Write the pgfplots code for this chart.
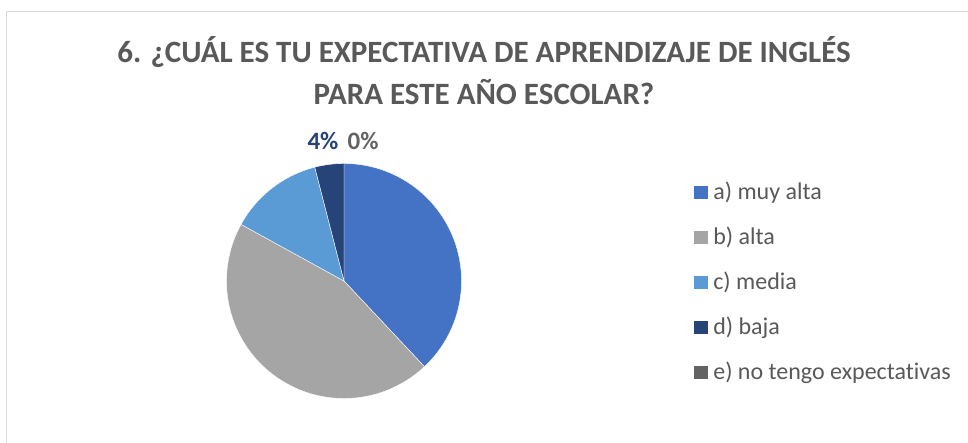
\documentclass[border=0pt]{standalone}
\usepackage{pgfplots}
\pgfplotsset{compat=1.18}
\usepackage{fontspec}
\setmainfont{Carlito}[Ligatures=NoCommon]
\definecolor{ca}{HTML}{4472C4}
\definecolor{cb}{HTML}{A5A5A5}
\definecolor{cc}{HTML}{5B9BD5}
\definecolor{cd}{HTML}{264478}
\definecolor{ce}{HTML}{636363}
\definecolor{txt}{HTML}{595959}
\definecolor{frm}{HTML}{D9D9D9}
% shares (percent)
\def\va{38}\def\vb{45}\def\vc{13}\def\vd{4}\def\ve{0}
\begin{document}
\begin{tikzpicture}
\path[use as bounding box] (0pt,0pt) rectangle (968pt,443pt);
\fill[white] (0pt,0pt) rectangle (968pt,443pt);
\draw[frm, line width=1.5pt] (6.5pt,0pt) -- (6.5pt,431.5pt) -- (968pt,431.5pt);
\node[anchor=base, text=txt, font=\fontsize{31}{36}\selectfont\bfseries, inner sep=0pt] at (484pt,380pt) {6. ¿CUÁL ES TU EXPECTATIVA DE APRENDIZAJE DE INGLÉS};
\node[anchor=base, text=txt, font=\fontsize{31}{36}\selectfont\bfseries, inner sep=0pt] at (484pt,338pt) {PARA ESTE AÑO ESCOLAR?};
\pgfmathsetmacro\aA{90}
\pgfmathsetmacro\aB{\aA-3.6*\va}
\pgfmathsetmacro\aC{\aB-3.6*\vb}
\pgfmathsetmacro\aD{\aC-3.6*\vc}
\pgfmathsetmacro\aE{\aD-3.6*\vd}
\begin{axis}[at={(344pt,162pt)}, anchor=center, x=117.5pt, y=117.5pt,
  xmin=-1, xmax=1, ymin=-1, ymax=1, hide axis, clip=false,
  legend style={at={(axis description cs:1.9894,0.9255)}, anchor=north west,
    draw=none, fill=none, font=\fontsize{24}{24}\selectfont, text=txt,
    row sep=21pt, inner sep=0pt,
    nodes={inner sep=0pt, text height=18pt, text depth=6pt},
    /tikz/every odd column/.append style={column sep=5.6pt}},
  legend cell align=left,
  legend image code/.code={\fill[#1,draw=none] (0pt,-6pt) rectangle (13.5pt,7pt);}]
\addplot[fill=ca, draw=white, line width=0.4pt, domain=\aB:\aA, samples=90, variable=\t] ({cos(t)},{sin(t)}) -- (axis cs:0,0) -- cycle;
\addlegendentry{a) muy alta}
\addplot[fill=cb, draw=white, line width=0.4pt, domain=\aC:\aB, samples=90, variable=\t] ({cos(t)},{sin(t)}) -- (axis cs:0,0) -- cycle;
\addlegendentry{b) alta}
\addplot[fill=cc, draw=white, line width=0.4pt, domain=\aD:\aC, samples=40, variable=\t] ({cos(t)},{sin(t)}) -- (axis cs:0,0) -- cycle;
\addlegendentry{c) media}
\addplot[fill=cd, draw=white, line width=0.4pt, domain=\aE:\aD, samples=20, variable=\t] ({cos(t)},{sin(t)}) -- (axis cs:0,0) -- cycle;
\addlegendentry{d) baja}
\addlegendimage{fill=ce}
\addlegendentry{e) no tengo expectativas}
\node[anchor=base, font=\fontsize{25}{25}\selectfont\bfseries, text=cd, inner sep=0pt] at (axis cs:-0.179,1.115) {\vd\%};
\node[anchor=base, font=\fontsize{25}{25}\selectfont\bfseries, text=ce, inner sep=0pt] at (axis cs:0.162,1.115) {\ve\%};
\end{axis}
\end{tikzpicture}
\end{document}
